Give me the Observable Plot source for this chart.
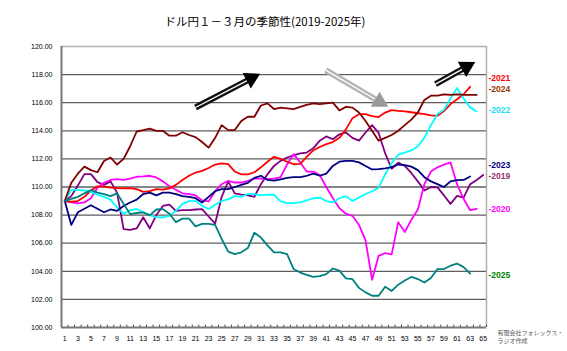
<!DOCTYPE html>
<html><head><meta charset="utf-8">
<script src="https://cdn.jsdelivr.net/npm/d3@7"></script>
<script src="https://cdn.jsdelivr.net/npm/@observablehq/plot@0.6"></script>
<style>body{margin:0;background:#fff;}#chart svg{display:block;}</style>
</head><body><div id="chart"></div>
<script>
const titleText = "ドル円１－３月の季節性(2019-2025年)";
const captionText = "有限会社フォレックス・\nラジオ作成";
const days = d3.range(1, 66);
const xTicks = d3.range(1, 66, 2);
const yTicks = d3.range(100, 121, 2);
const years = ["2019", "2020", "2021", "2022", "2023", "2024", "2025"];
const lineColors = ["#800080", "#FF00FF", "#FF0000", "#00FFFF", "#000080", "#800000", "#008080"];

const s2019 = [109.0,109.35,110.1,110.92,110.92,110.35,110.15,110.4,109.6,107.0,
106.95,107.05,107.85,107.05,108.0,108.65,108.75,108.3,108.36,108.36,
108.4,108.43,107.9,107.4,109.3,110.4,109.55,109.45,109.4,109.3,
110.2,110.9,111.5,111.86,112.1,112.25,112.4,112.45,112.75,113.3,
113.6,113.4,113.75,113.88,113.5,113.3,113.88,114.4,113.85,112.4,
111.3,111.74,111.5,111.0,110.4,109.75,110.0,109.97,109.4,108.8,
109.37,109.25,110.2,110.5,110.85];
const s2020 = [109.0,108.9,108.83,108.9,109.2,109.95,110.3,110.5,110.56,110.5,
110.6,110.73,110.75,110.8,110.68,110.4,110.05,109.8,109.55,109.5,
109.4,109.05,108.97,109.7,110.2,110.44,110.32,110.32,110.44,110.6,
110.6,110.58,110.6,110.7,111.6,112.34,111.75,111.1,111.1,110.85,
110.0,109.2,108.5,108.1,107.95,107.3,106.2,103.4,105.1,105.3,
105.2,107.5,106.8,107.65,108.4,110.2,111.1,111.4,111.6,111.75,
110.2,109.15,108.35,108.45];
const s2021 = [109.0,108.95,109.0,109.3,109.75,110.05,110.05,109.95,109.92,109.9,
109.92,109.85,109.65,109.7,109.85,109.82,109.9,110.15,110.5,110.8,
111.03,111.15,111.35,111.6,111.68,111.63,111.1,110.9,110.9,111.05,
111.4,111.8,112.15,112.0,111.8,111.62,111.65,112.15,112.6,112.85,
113.05,113.2,113.5,114.1,114.9,115.18,115.19,115.05,114.98,115.3,
115.47,115.42,115.38,115.32,115.25,115.19,115.1,115.07,115.4,115.9,
116.25,116.6,117.13];
const s2022 = [109.0,109.8,109.8,109.75,109.65,109.45,109.3,109.1,108.55,108.1,
108.35,108.43,108.2,108.0,107.85,107.83,107.95,108.3,108.8,109.0,
109.0,108.66,108.43,108.73,109.0,109.14,109.35,109.3,109.5,109.5,
109.4,109.45,109.45,108.97,108.85,108.85,108.9,109.05,109.2,109.25,
109.0,108.9,109.2,109.35,109.0,109.25,109.5,109.7,109.95,110.9,
111.7,112.3,112.45,112.6,112.9,113.5,114.4,115.2,115.5,116.3,
117.05,116.3,115.65,115.38];
const s2023 = [109.0,107.3,108.2,108.45,108.7,108.45,108.2,108.4,108.3,108.65,
108.9,109.1,109.5,109.6,109.4,109.6,109.6,109.5,109.35,109.3,
109.2,108.9,109.3,109.7,109.85,109.85,110.0,110.15,110.3,110.65,
110.8,110.5,110.45,110.55,110.65,110.7,110.7,110.8,110.95,110.8,
110.95,111.5,111.8,111.86,111.86,111.75,111.5,111.25,111.27,111.33,
111.42,111.6,111.55,111.45,111.2,110.7,110.4,110.2,110.0,110.4,
110.49,110.5,110.75];
const s2024 = [109.0,110.3,110.95,111.45,111.2,111.05,111.85,112.1,111.6,112.0,
112.9,113.95,114.05,114.15,114.0,114.0,113.65,113.65,113.9,113.7,
113.55,113.2,112.8,113.5,114.4,114.05,114.05,114.7,115.0,115.0,
115.8,115.95,115.55,115.65,115.6,115.55,115.7,115.85,115.95,115.9,
115.95,116.0,115.45,115.7,115.65,115.3,114.7,114.0,113.3,113.5,
113.7,114.0,114.4,114.8,115.3,116.2,116.5,116.5,116.6,116.55,
116.6,116.55,116.55,116.55];
const s2025 = [109.0,109.15,109.3,109.55,109.78,109.6,109.5,109.35,109.55,108.8,
108.07,108.15,108.19,107.98,108.4,108.43,108.1,107.5,107.75,107.75,
107.2,107.38,107.38,107.3,106.3,105.4,105.22,105.35,105.65,106.75,
106.4,105.85,105.34,105.34,105.22,104.16,103.91,103.75,103.6,103.65,
103.8,104.2,104.05,103.5,103.44,102.82,102.5,102.26,102.26,102.9,
102.6,103.05,103.35,103.6,103.45,103.2,103.52,104.16,104.16,104.4,
104.55,104.3,103.84];

// legend labels at right (text, colour, vertical anchor value)
const legendText = ["-2021", "-2024", "-2022", "-2023", "-2019", "-2020", "-2025"];
const legendColors = ["#FF0000", "#993300", "#22DDEE", "#000080", "#993366", "#FF00FF", "#008000"];
const legendY = [117.77, 116.99, 115.47, 111.53, 110.75, 108.43, 103.73];

// annotation arrows (tail -> tip, in data units)
const arrowTail = [[21.0, 115.66], [40.9, 118.32], [57.7, 117.32]];
const arrowTip = [[30.6, 117.99], [50.2, 115.78], [63.5, 118.82]];
const arrowFill = ["#000000", "#9a9a9a", "#000000"];
const arrowShaft = ["#111111", "#b4b4b4", "#111111"];

const series = [s2019, s2020, s2021, s2022, s2023, s2024, s2025];
const data = series.flatMap((arr, k) => arr.map((v, i) => ({day: days[i], value: v, year: years[k]})));

const W = 567, H = 351, mL = 61, mR = 81, mT = 46, mB = 24;
const kx = (W - mL - mR) / 65, ky = (H - mT - mB) / 20;
const arrows = arrowTail.map((t, i) => {
  const p = arrowTip[i];
  const sx = (p[0] - t[0]) * kx, sy = -(p[1] - t[1]) * ky;
  const L = Math.hypot(sx, sy), ux = sx / L, uy = sy / L;
  return {
    x1: t[0], y1: t[1],
    x2: p[0] - ux * 11 / kx, y2: p[1] + uy * 11 / ky,
    cx: p[0] - ux * 8 / kx, cy: p[1] + uy * 8 / ky,
    rot: Math.atan2(ux, -uy) * 180 / Math.PI,
    fill: arrowFill[i], shaft: arrowShaft[i]
  };
});
const legend = legendText.map((t, i) => ({t, c: legendColors[i], y: legendY[i]}));
const boundaries = d3.range(0.5, 66, 1);

const chart = Plot.plot({
  width: W, height: H,
  marginLeft: mL, marginRight: mR, marginTop: mT, marginBottom: mB,
  style: {fontFamily: "'Liberation Sans', Arial, sans-serif", background: "#fff", overflow: "visible"},
  x: {domain: [0.5, 65.5], label: null},
  y: {domain: [100, 120], label: null},
  color: {domain: years, range: lineColors},
  marks: [
    Plot.ruleY(yTicks.filter(d => d > 100 && d < 120), {stroke: "#5e5e5e", strokeWidth: 1.3}),
    Plot.ruleY([120], {stroke: "#b0b0b0", strokeWidth: 1.3}),
    Plot.ruleX([65.5], {y1: 100, y2: 120, stroke: "#b0b0b0", strokeWidth: 1.5}),
    Plot.ruleX(boundaries, {y1: 100, y2: 100.17, stroke: "#444", strokeWidth: 1}),
    Plot.ruleX([0.5], {y1: 100, y2: 120, stroke: "#777", strokeWidth: 2}),
    Plot.ruleY([100], {stroke: "#777", strokeWidth: 2}),
    Plot.axisX({ticks: xTicks, tickFormat: d => String(d), tickSize: 0, tickPadding: 9, fontSize: 7}),
    Plot.axisY({ticks: yTicks, tickFormat: d => d.toFixed(2), tickSize: 0, tickPadding: 9, fontSize: 7}),
    Plot.line(data, {x: "day", y: "value", z: "year", stroke: "year", strokeWidth: 1.8, curve: "linear"}),
    Plot.link(arrows, {x1: "x1", y1: "y1", x2: "x2", y2: "y2", stroke: "shaft", strokeWidth: 6}),
    Plot.link(arrows, {x1: "x1", y1: "y1", x2: "x2", y2: "y2", stroke: "#fff", strokeWidth: 1.3}),
    Plot.dot(arrows, {x: "cx", y: "cy", symbol: "triangle", r: 6.5, fill: "fill", stroke: "none", rotate: "rot"}),
    Plot.text(legend, {x: () => 65.5, y: "y", text: "t", fill: "c", dx: 2, textAnchor: "start", fontSize: 8.5, fontWeight: "bold"}),
    Plot.text([titleText], {frameAnchor: "top", dx: -9, dy: -29, fontSize: 11.5, fontFamily: "'Noto Sans CJK JP', sans-serif", fill: "#000"}),
    Plot.text([captionText], {frameAnchor: "bottom-right", dx: 11, dy: 1, textAnchor: "start", lineAnchor: "top", fontSize: 6, lineHeight: 1.45, fill: "#555", fontFamily: "'Noto Sans CJK JP', sans-serif"})
  ]
});
document.getElementById("chart").appendChild(chart);
</script>
</body></html>
